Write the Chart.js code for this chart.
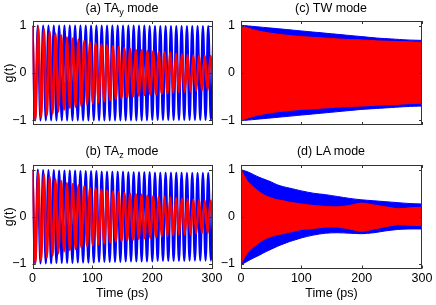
<!DOCTYPE html>
<html>
<head>
<meta charset="utf-8">
<script src="https://cdn.jsdelivr.net/npm/chart.js@4.4.1/dist/chart.umd.min.js"></script>
<style>
body{margin:0;background:#fff;}
#wrap{position:relative;width:436px;height:305px;overflow:hidden;font-family:Arial,"Liberation Sans",sans-serif;}
canvas{position:absolute;left:0;top:0;}
.ttl{position:absolute;font-size:12.5px;color:#000;white-space:nowrap;transform:translate(-50%,-50%);line-height:1;}
.ttl sub{font-size:9px;vertical-align:-3px;line-height:0;}
</style>
</head>
<body>
<div id="wrap">
<canvas id="cA" width="436" height="305"></canvas>
<canvas id="cB" width="436" height="305"></canvas>
<canvas id="cC" width="436" height="305"></canvas>
<canvas id="cD" width="436" height="305"></canvas>
<div class="ttl" style="left:122px;top:8px">(a) TA<sub>y</sub> mode</div>
<div class="ttl" style="left:331px;top:8px">(c) TW mode</div>
<div class="ttl" style="left:122px;top:151px">(b) TA<sub>z</sub> mode</div>
<div class="ttl" style="left:331px;top:151px">(d) LA mode</div>
</div>
<script>
// tick labels
var xTicks = [0, 100, 200, 300];
var yTicks = [-1, 0, 1];

// TA modes: extremum times (ps) and values of the oscillations
var blueTimes = [0,4.45,8.9,13.35,17.8,22.25,26.7,31.15,35.6,40.05,44.5,48.95,53.4,57.85,62.3,66.75,71.2,75.65,80.1,84.55,
  89,93.45,97.9,102.35,106.8,111.25,115.7,120.15,124.6,129.05,133.5,137.95,142.4,146.85,151.3,155.75,160.2,164.65,169.1,173.55,
  178,182.45,186.9,191.35,195.8,200.25,204.7,209.15,213.6,218.05,222.5,226.95,231.4,235.85,240.3,244.75,249.2,253.65,258.1,262.55,
  267,271.45,275.9,280.35,284.8,289.25,293.7,298.15,302.6];
var redTimes = [0,4.8,9.6,14.4,19.2,24,28.8,33.6,38.4,43.2,48,52.8,57.6,62.4,67.2,72,76.8,81.6,86.4,91.2,
  96,100.8,105.6,110.4,115.2,120,124.8,129.6,134.4,139.2,144,148.8,153.6,158.4,163.2,168,172.8,177.6,182.4,187.2,
  192,196.8,201.6,206.4,211.2,216,220.8,225.6,230.4,235.2,240,244.8,249.6,254.4,259.2,264,268.8,273.6,278.4,283.2,
  288,292.8,297.6,302.4];

var blueA = [1,-1,1,-1,1,-1,1,-1,1,-1,1,-1,1,-1,1,-1,1,-1,1,-1,
  1,-1,1,-1,1,-1,1,-1,1,-1,1,-1,1,-1,1,-1,1,-1,1,-1,
  1,-1,1,-1,0.99,-0.99,0.99,-0.99,0.99,-0.99,0.99,-0.99,0.99,-0.99,0.99,-0.99,0.99,-0.99,0.99,-0.99,
  0.99,-0.99,0.99,-0.99,0.99,-0.99,0.99,-0.99,0.99];
var redA = [1,-0.99,0.97,-0.95,0.93,-0.9,0.88,-0.86,0.84,-0.82,0.8,-0.78,0.76,-0.74,0.73,-0.72,0.71,-0.7,0.68,-0.66,
  0.65,-0.64,0.63,-0.62,0.61,-0.6,0.59,-0.58,0.57,-0.56,0.55,-0.54,0.53,-0.52,0.51,-0.5,0.49,-0.48,0.48,-0.47,
  0.47,-0.46,0.46,-0.45,0.45,-0.44,0.44,-0.43,0.43,-0.42,0.41,-0.41,0.4,-0.4,0.39,-0.39,0.38,-0.38,0.38,-0.37,
  0.37,-0.36,0.36,-0.36];
var blueB = [1,-1,1,-0.99,0.99,-0.99,0.99,-0.99,0.99,-0.98,0.98,-0.98,0.98,-0.98,0.98,-0.98,0.98,-0.97,0.97,-0.97,
  0.97,-0.97,0.97,-0.97,0.97,-0.96,0.96,-0.96,0.96,-0.96,0.96,-0.96,0.96,-0.96,0.96,-0.95,0.95,-0.95,0.95,-0.95,
  0.95,-0.95,0.95,-0.95,0.95,-0.95,0.94,-0.94,0.94,-0.94,0.94,-0.94,0.94,-0.94,0.94,-0.94,0.94,-0.94,0.93,-0.93,
  0.93,-0.93,0.93,-0.93,0.93,-0.93,0.93,-0.93,0.93];
var redB = [1,-0.98,0.95,-0.93,0.9,-0.87,0.85,-0.83,0.8,-0.78,0.76,-0.74,0.72,-0.71,0.7,-0.69,0.67,-0.66,0.65,-0.63,
  0.62,-0.61,0.6,-0.59,0.58,-0.57,0.56,-0.55,0.54,-0.53,0.53,-0.52,0.51,-0.5,0.49,-0.49,0.48,-0.47,0.47,-0.46,
  0.45,-0.45,0.44,-0.43,0.43,-0.42,0.42,-0.41,0.41,-0.4,0.4,-0.39,0.39,-0.38,0.38,-0.37,0.37,-0.36,0.36,-0.35,
  0.35,-0.35,0.34,-0.34];

// TW mode: envelopes of the fast oscillation
var twTimes  = [0,25,50,75,100,125,150,175,200,225,250,275,300];
var twBlueUp = [1.01,0.98,0.95,0.92,0.89,0.86,0.83,0.8,0.77,0.74,0.72,0.7,0.69];
var twBlueLo = [-1.01,-0.98,-0.95,-0.92,-0.89,-0.86,-0.83,-0.8,-0.77,-0.75,-0.73,-0.71,-0.7];
var twRedUp  = [1,0.9,0.84,0.8,0.77,0.75,0.73,0.71,0.7,0.68,0.67,0.66,0.65];
var twRedLo  = [-1,-0.9,-0.84,-0.8,-0.77,-0.75,-0.73,-0.71,-0.7,-0.68,-0.67,-0.65,-0.64];

// LA mode: envelopes
var laTimes  = [0,10,20,30,40,50,60,70,80,90,100,120,140,160,180,200,220,240,260,280,300];
var laBlueUp = [1,0.96,0.9,0.84,0.79,0.74,0.68,0.64,0.61,0.58,0.55,0.5,0.47,0.43,0.39,0.36,0.34,0.32,0.3,0.28,0.27];
var laBlueLo = [-1.02,-0.95,-0.88,-0.82,-0.75,-0.69,-0.63,-0.58,-0.53,-0.49,-0.45,-0.39,-0.35,-0.34,-0.35,-0.36,-0.34,-0.3,-0.27,-0.26,-0.26];
var laRedUp  = [1,0.77,0.64,0.53,0.45,0.4,0.36,0.34,0.31,0.29,0.27,0.24,0.22,0.21,0.24,0.29,0.25,0.21,0.17,0.19,0.2];
var laRedLo  = [-1,-0.78,-0.65,-0.55,-0.47,-0.42,-0.38,-0.36,-0.33,-0.3,-0.27,-0.25,-0.22,-0.22,-0.26,-0.31,-0.26,-0.21,-0.17,-0.18,-0.19];

var FONT = {family:'Arial, "Liberation Sans", sans-serif', size:12.5};

function pts(t, g){
    return t.map(function(v, i){ return {x:v, y:g[i]}; });
}

var framePlugin = {
    id:'frame',
    afterDraw:function(chart){
        var ctx = chart.ctx, a = chart.chartArea, x = chart.scales.x, y = chart.scales.y;
        ctx.save();
        ctx.strokeStyle = '#333';
        ctx.lineWidth = 1;
        ctx.strokeRect(Math.round(a.left)+0.5, Math.round(a.top)+0.5, Math.round(a.right-a.left)-1, Math.round(a.bottom-a.top)-1);
        ctx.beginPath();
        xTicks.forEach(function(v){
            var px = Math.round(x.getPixelForValue(v))+0.5;
            ctx.moveTo(px, a.bottom); ctx.lineTo(px, a.bottom-3);
            ctx.moveTo(px, a.top); ctx.lineTo(px, a.top+3);
        });
        yTicks.forEach(function(v){
            var py = Math.round(y.getPixelForValue(v))+0.5;
            ctx.moveTo(a.left, py); ctx.lineTo(a.left+3, py);
            ctx.moveTo(a.right, py); ctx.lineTo(a.right-3, py);
        });
        ctx.stroke();
        ctx.restore();
    }
};

function panel(id, area, datasets, showX, showY){
    return new Chart(document.getElementById(id), {
        type:'line',
        data:{datasets:datasets},
        plugins:[framePlugin],
        options:{
            responsive:false,
            animation:false,
            layout:{autoPadding:false, padding:{left:0, top:area.top, right:436-area.right, bottom:0}},
            plugins:{legend:{display:false}, tooltip:{enabled:false}},
            elements:{point:{radius:0}},
            scales:{
                x:{
                    type:'linear', min:0, max:300,
                    afterBuildTicks:function(s){ s.ticks = xTicks.map(function(v){ return {value:v}; }); },
                    afterFit:function(s){ s.height = 305-area.bottom; },
                    grid:{display:false, drawTicks:false},
                    border:{display:false},
                    ticks:{display:showX, padding:3, color:'#000', font:FONT, maxRotation:0},
                    title:{display:showX, text:'Time (ps)', color:'#000', font:FONT, padding:{top:0, bottom:4}}
                },
                y:{
                    min:-1.1, max:1.1,
                    afterBuildTicks:function(s){ s.ticks = yTicks.map(function(v){ return {value:v}; }); },
                    afterFit:function(s){ s.width = area.left; },
                    grid:{display:false, drawTicks:false},
                    border:{display:false},
                    ticks:{padding:6, color:'#000', font:FONT, callback:function(v){ return String(v).replace('-', '\u2212'); }},
                    title:{display:showY, text:'g(t)', color:'#000', font:FONT, padding:{top:2.5, bottom:0}}
                }
            }
        }
    });
}

function wave(t, g, color){
    return {data:pts(t, g), borderColor:color, borderWidth:2.3, cubicInterpolationMode:'monotone', fill:false};
}
function band(t, up, lo, color){
    return [
        {data:pts(t, up), borderColor:color, backgroundColor:color, borderWidth:1, tension:0.3, fill:'+1'},
        {data:pts(t, lo), borderColor:color, borderWidth:1, tension:0.3, fill:false}
    ];
}

panel('cA', {left:32.5, right:212, top:21, bottom:125},
    [wave(redTimes, redA, '#ff0000'), wave(blueTimes, blueA, '#0000ff')], false, true);
panel('cB', {left:32.5, right:212, top:165, bottom:268.5},
    [wave(redTimes, redB, '#ff0000'), wave(blueTimes, blueB, '#0000ff')], true, true);
panel('cC', {left:241, right:422, top:21, bottom:125},
    band(twTimes, twRedUp, twRedLo, '#ff0000').concat(band(twTimes, twBlueUp, twBlueLo, '#0000ff')), false, false);
panel('cD', {left:241, right:422, top:165, bottom:268.5},
    band(laTimes, laRedUp, laRedLo, '#ff0000').concat(band(laTimes, laBlueUp, laBlueLo, '#0000ff')), true, false);
</script>
</body>
</html>
